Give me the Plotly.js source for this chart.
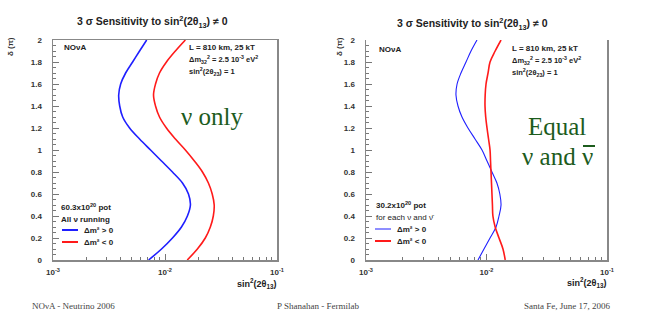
<!DOCTYPE html>
<html><head><meta charset="utf-8">
<script src="https://cdn.plot.ly/plotly-3.0.1.min.js"></script>
<style>html,body{margin:0;padding:0;background:#fff}#c{width:654px;height:321px}</style>
</head><body><div id="c"></div>
<script>
// delta (in units of pi)
const delta = [0,0.1,0.2,0.3,0.4,0.5,0.6,0.7,0.8,0.9,1.0,1.1,1.2,1.3,1.4,1.5,1.6,1.7,1.8,1.9,2.0];
// Left panel: nu only, 60.3e20 pot
const nuOnlyNormal   = [0.00714,0.00931,0.01166,0.01403,0.01585,0.01686,0.0162,0.01432,0.01166,0.00931,0.00743,0.00593,0.00483,0.00419,0.00394,0.00386,0.00402,0.00445,0.00514,0.00593,0.00686];
const nuOnlyInverted = [0.0158,0.01946,0.0229,0.0254,0.0270,0.0275,0.0264,0.0244,0.0216,0.0183,0.0152,0.01239,0.0103,0.00893,0.00823,0.0079,0.00823,0.00893,0.0103,0.01239,0.0152];
// Right panel: equal nu and nubar, 30.2e20 pot each
const equalNormal    = [0.0085,0.00953,0.0107,0.012,0.0127,0.0132,0.0129,0.0122,0.0111,0.0101,0.00918,0.00803,0.00702,0.00626,0.0058,0.00558,0.0057,0.00614,0.00676,0.00744,0.00834];
const equalInverted  = [0.0143,0.0137,0.0127,0.0118,0.0113,0.0112,0.0111,0.011,0.0109,0.0108,0.0107,0.0104,0.0101,0.00985,0.00972,0.00975,0.00991,0.0103,0.0107,0.0118,0.0132];
const seriesNames = ['Δm² > 0','Δm² < 0'];
const xTickVals = [0.001,0.01,0.1];
const xTickText = ['10<sup>-3</sup>','10<sup>-2</sup>','10<sup>-1</sup>'];
const xMinorVals = [0.002,0.003,0.004,0.005,0.006,0.007,0.008,0.009,0.02,0.03,0.04,0.05,0.06,0.07,0.08,0.09];

const W=654,H=321;
const px=x=>x/W, py=y=>1-y/H;
const SANS='Liberation Sans, Arial, sans-serif';
const SERIF='Liberation Serif, Times New Roman, serif';
const BLUE='#1f1fff', RED='#ff1a1a', GREEN='#1d5c1d';
const colors=[BLUE,RED];

const traces=[
 {x:nuOnlyNormal,y:delta,xaxis:'x',yaxis:'y',type:'scatter',mode:'lines',line:{color:BLUE,width:1.6,shape:'spline'},name:seriesNames[0],showlegend:false},
 {x:nuOnlyInverted,y:delta,xaxis:'x',yaxis:'y',type:'scatter',mode:'lines',line:{color:RED,width:1.6,shape:'spline'},name:seriesNames[1],showlegend:false},
 {x:equalNormal,y:delta,xaxis:'x2',yaxis:'y2',type:'scatter',mode:'lines',line:{color:BLUE,width:1.1,shape:'spline'},name:seriesNames[0],showlegend:false},
 {x:equalInverted,y:delta,xaxis:'x2',yaxis:'y2',type:'scatter',mode:'lines',line:{color:RED,width:1.6,shape:'spline'},name:seriesNames[1],showlegend:false}
];

const tickFont={family:SANS,size:8,color:'#333',weight:'bold'};
function xax(dom,mirror){return {type:'log',domain:dom,range:[-3,-1],tickmode:'array',tickvals:xTickVals,ticktext:xTickText,
  ticks:'inside',ticklen:6,tickcolor:'#777',showline:true,linecolor:'#888',linewidth:1.5,mirror:mirror,showgrid:false,zeroline:false,
  tickfont:tickFont,minor:{tickmode:'array',tickvals:xMinorVals,ticks:'inside',ticklen:3,tickcolor:'#777',showgrid:false},ticklabelstandoff:4};}
function yax(dom,anchor){return {domain:dom,range:[0,2],dtick:0.2,tick0:0,anchor:anchor,ticks:'inside',ticklen:6,tickcolor:'#777',
  showline:true,linecolor:'#888',linewidth:1.5,mirror:true,showgrid:false,zeroline:false,tickfont:tickFont,ticklabelstandoff:8,
  minor:{dtick:0.05,ticks:'inside',ticklen:3,tickcolor:'#777',showgrid:false}};}

const yDom=[py(260),py(40)];
const ann=[], shapes=[];
function t(text,x,y,opt){ann.push(Object.assign({text:text,x:px(x),y:py(y),xref:'paper',yref:'paper',showarrow:false,xanchor:'left',yanchor:'middle',
  font:{family:SANS,size:8,color:'#222',weight:'bold'}},opt||{}));}
function seg(x0,x1,y,color,w){shapes.push({type:'line',xref:'paper',yref:'paper',x0:px(x0),x1:px(x1),y0:py(y),y1:py(y),line:{color:color,width:w}});}
// titles
t('3 σ Sensitivity to sin<sup>2</sup>(2θ<sub>13</sub>) ≠ 0',152,22,{xanchor:'center',font:{family:SANS,size:10.5,color:'#222',weight:'bold'}});
t('3 σ Sensitivity to sin<sup>2</sup>(2θ<sub>13</sub>) ≠ 0',472,24,{xanchor:'center',font:{family:SANS,size:10.5,color:'#222',weight:'bold'}});
// y titles
t('δ (π)',10,47,{xanchor:'center',textangle:-90,font:{family:SANS,size:8,color:'#333',weight:'bold'}});
t('δ (π)',339,47,{xanchor:'center',textangle:-90,font:{family:SANS,size:8,color:'#333',weight:'bold'}});
// x titles
t('sin<sup>2</sup>(2θ<sub>13</sub>)',278,283,{xanchor:'right',font:{family:SANS,size:9,color:'#222',weight:'bold'}});
t('sin<sup>2</sup>(2θ<sub>13</sub>)',608,282,{xanchor:'right',font:{family:SANS,size:9,color:'#222',weight:'bold'}});
// in-plot labels left
t('NOνA',62,47);
t('L = 810 km, 25 kT',187,47);
t('Δm<sub>32</sub><sup>2</sup> = 2.5 10<sup>-3</sup> eV<sup>2</sup>',187,59,{font:{family:SANS,size:7.5,color:'#222',weight:'bold'}});
t('sin<sup>2</sup>(2θ<sub>23</sub>) = 1',187,71,{font:{family:SANS,size:7.5,color:'#222',weight:'bold'}});
t('60.3x10<sup>20</sup> pot',59,207);
t('All ν running',59,219);
// manual legend left
[230,242].forEach((y,i)=>{seg(62,78,y,colors[i],2);t(seriesNames[i],82,y);});
// in-plot labels right
t('NOνA',377,49);
t('L = 810 km, 25 kT',510,48);
t('Δm<sub>32</sub><sup>2</sup> = 2.5 10<sup>-3</sup> eV<sup>2</sup>',510,60,{font:{family:SANS,size:7.5,color:'#222',weight:'bold'}});
t('sin<sup>2</sup>(2θ<sub>23</sub>) = 1',510,72,{font:{family:SANS,size:7.5,color:'#222',weight:'bold'}});
t('30.2x10<sup>20</sup> pot',374,205);
t('for each ν and ν̄',374,217,{font:{family:SANS,size:8,color:'#222'}});
// manual legend right
[229,241].forEach((y,i)=>{seg(375,391,y,colors[i],i?2:1);t(seriesNames[i],395,y);});
// green slide text
t('ν only',212,116,{xanchor:'center',font:{family:SERIF,size:25,color:GREEN}});
t('Equal',557,126,{xanchor:'center',font:{family:SERIF,size:25,color:GREEN}});
t('ν and ν',557,157,{xanchor:'center',font:{family:SERIF,size:25,color:GREEN}});
seg(583,595,146,GREEN,2);
// footer
t('NOνA - Neutrino 2006',30,306,{font:{family:SERIF,size:9,color:'#444'}});
t('P Shanahan - Fermilab',318,306,{xanchor:'center',font:{family:SERIF,size:9,color:'#444'}});
t('Santa Fe, June 17, 2006',612,306,{xanchor:'right',font:{family:SERIF,size:9,color:'#444'}});

const layout={width:W,height:H,margin:{l:0,r:0,t:0,b:0},paper_bgcolor:'#fff',plot_bgcolor:'#fff',
  xaxis:xax([px(53),px(277)],true),yaxis:yax(yDom,'x'),
  xaxis2:xax([px(366),px(607)],false),yaxis2:yax(yDom,'x2'),
  annotations:ann,shapes:shapes,showlegend:false};
layout.xaxis.anchor='y';layout.xaxis2.anchor='y2';
Plotly.newPlot('c',traces,layout,{staticPlot:true,displayModeBar:false});
</script></body></html>
